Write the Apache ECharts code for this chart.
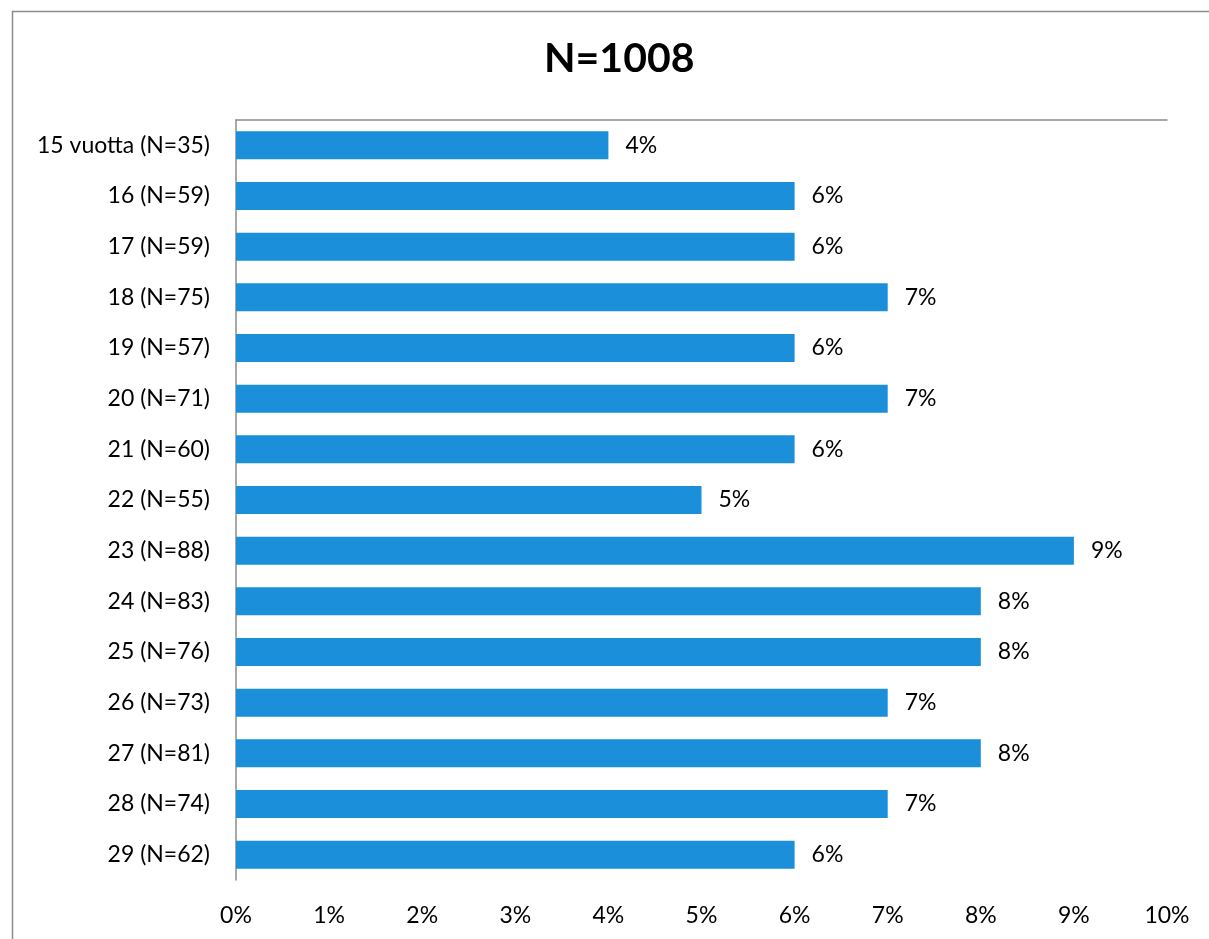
<!DOCTYPE html>
<html>
<head>
<meta charset="utf-8">
<script src="https://cdn.jsdelivr.net/npm/echarts@6/dist/echarts.min.js"></script>
<style>
html,body{margin:0;padding:0;background:#fff;}
#chart{width:1209px;height:939px;}
</style>
</head>
<body>
<div id="chart"></div>
<script>
const categories = ['15 vuotta (N=35)','16 (N=59)','17 (N=59)','18 (N=75)','19 (N=57)','20 (N=71)','21 (N=60)','22 (N=55)','23 (N=88)','24 (N=83)','25 (N=76)','26 (N=73)','27 (N=81)','28 (N=74)','29 (N=62)'];
const values = [4,6,6,7,6,7,6,5,9,8,8,7,8,7,6];
const titleText = 'N=1008';

const FONT = 'Lato, "Open Sans", sans-serif';
const chart = echarts.init(document.getElementById('chart'));
chart.setOption({
  animation: false,
  backgroundColor: '#fff',
  title: {
    text: titleText,
    left: 539,
    top: 33,
    textStyle: {fontFamily: FONT, fontSize: 41, fontWeight: 'bold', color: '#000'}
  },
  graphic: [{
    type: 'rect',
    left: 10, top: 9,
    shape: {width: 1300, height: 1000},
    style: {fill: 'none', stroke: '#8c8c8c', lineWidth: 1.5},
    silent: true
  }],
  grid: {left: 236, right: 42, top: 120, bottom: 59, containLabel: false},
  xAxis: [{
    type: 'value', min: 0, max: 10, interval: 1, position: 'bottom',
    axisLine: {show: false}, axisTick: {show: false}, splitLine: {show: false},
    axisLabel: {formatter: '{value}%', fontFamily: FONT, fontSize: 23, color: '#000', margin: 24}
  }, {
    type: 'value', min: 0, max: 10, interval: 1, position: 'top',
    axisLine: {show: true, onZero: false, lineStyle: {color: '#8c8c8c', width: 1.5}},
    axisTick: {show: false}, splitLine: {show: false}, axisLabel: {show: false}
  }],
  yAxis: {
    type: 'category', data: categories, inverse: true,
    axisLine: {show: true, lineStyle: {color: '#8c8c8c', width: 1.5}},
    axisTick: {show: false},
    axisLabel: {fontFamily: FONT, fontSize: 23, color: '#000', margin: 26, padding: [2, 0, 0, 0]}
  },
  series: [{
    type: 'bar', data: values, xAxisIndex: 0, barWidth: 28,
    itemStyle: {color: '#1b8fd9'},
    label: {show: true, position: 'right', distance: 17, formatter: '{c}%', fontFamily: FONT, fontSize: 23, color: '#000', padding: [2, 0, 0, 0]}
  }]
});
</script>
</body>
</html>
